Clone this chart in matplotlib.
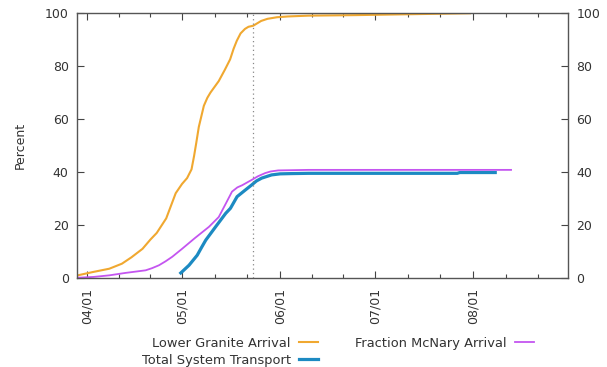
import numpy as np
import matplotlib
matplotlib.use("Agg")
import matplotlib.pyplot as plt
from matplotlib.ticker import FixedLocator, NullFormatter

# days counted from 04/01
month_days = [0, 30, 61, 91, 122]
month_labels = ["04/01", "05/01", "06/01", "07/01", "08/01"]
marker_day = 52.5

granite_day = [-3, 2, 7, 11, 14, 17.5, 20, 22, 25, 28, 30, 31.6, 33, 33.8, 34.5, 35.3, 36.9,
               38, 39, 41.6, 43.5, 45.2, 46.3, 47.3, 48.5, 49.9, 51, 52.5, 55, 57, 60, 63.5,
               70, 85, 100, 121]
granite_pct = [1.0, 2.3, 3.5, 5.4, 7.8, 11, 14.5, 17, 22.5, 32, 35.5, 37.7, 41, 46, 51, 57, 65,
               68, 70, 74.3, 78.5, 82.5, 86.5, 89.5, 92.3, 94, 94.8, 95.2, 97, 97.8, 98.4, 98.7,
               99.0, 99.2, 99.5, 99.9]

mcnary_day = [-3, 2, 7, 12, 18.5, 20.5, 22.7, 24.8, 26.9, 30, 34, 38.5, 41.6, 43.8, 45.8, 47.5,
              49, 52, 54, 56.3, 58, 60.4, 70, 100, 134]
mcnary_pct = [0.1, 0.4, 1.0, 1.9, 2.9, 3.7, 4.8, 6.3, 8, 11, 15, 19.3, 23, 28, 32.6, 34.2,
              35, 37, 38.4, 39.6, 40.2, 40.6, 40.8, 40.8, 40.8]

transport_day = [29.6, 32.2, 34.8, 36.2, 37.5, 40.6, 43.8, 45.3, 47.4, 50, 52, 53.5, 55.2,
                 58.3, 61, 64.6, 70, 117, 117.8, 129]
transport_pct = [1.9, 4.8, 8.6, 11.6, 14.3, 19.3, 24.4, 26.3, 30.7, 33.2, 35.1, 36.6, 37.7,
                 38.9, 39.3, 39.4, 39.5, 39.5, 39.8, 39.8]

fig = plt.figure(figsize=(6.07, 3.67), dpi=100)
ax = fig.add_axes([77 / 607, 1 - 278 / 367, 491 / 607, 265 / 367])

l1, = ax.plot(granite_day, granite_pct, color="#F0A830", lw=1.5, label="Lower Granite Arrival")
l2, = ax.plot(transport_day, transport_pct, color="#1C8AC2", lw=2.3, label="Total System Transport")
l3, = ax.plot(mcnary_day, mcnary_pct, color="#C455F0", lw=1.3, label="Fraction McNary Arrival")
ax.axvline(marker_day, color="#888888", lw=0.9, ls=(0, (1, 2.5)))

ax.set_xlim(-3.2, 152)
ax.set_ylim(0, 100)

ax.set_xticks(month_days)
ax.set_xticklabels(month_labels, rotation=90, va="top")
edges = month_days + [153]
minor = []
for a, b in zip(edges[:-1], edges[1:]):
    minor += [a + (b - a) / 3, a + 2 * (b - a) / 3]
ax.xaxis.set_minor_locator(FixedLocator(minor))
ax.xaxis.set_minor_formatter(NullFormatter())
ax.set_yticks([0, 20, 40, 60, 80, 100])

ax.tick_params(which="both", direction="in", top=True, right=True, labelright=True,
               colors="#444444", labelcolor="#333333", labelsize=9, width=0.8)
ax.tick_params(which="major", length=5)
ax.tick_params(which="minor", length=3)
ax.tick_params(axis="y", pad=6)
ax.tick_params(axis="x", pad=7)
for s in ax.spines.values():
    s.set_color("#555555")
    s.set_linewidth(1.0)

ax.set_ylabel("Percent", fontsize=9, color="#333333", labelpad=13)

fig.legend(handles=[l1, l2, l3], loc="upper center", bbox_to_anchor=(0.557, 0.1),
           ncol=2, frameon=False, markerfirst=False, fontsize=9.4, handlelength=1.5,
           columnspacing=2.85, borderpad=0, labelspacing=0.3, handletextpad=0.6,
           alignment="right")
for t in fig.legends[0].get_texts():
    t.set_color("#333333")

fig.savefig("out.png", dpi=100)
